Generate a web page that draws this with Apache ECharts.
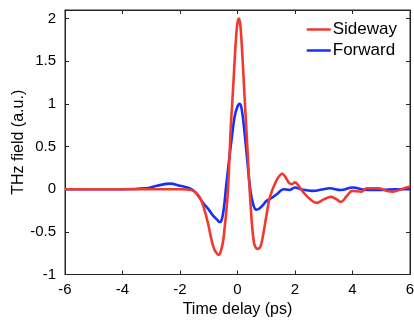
<!DOCTYPE html>
<html>
<head>
<meta charset="utf-8">
<script src="https://cdn.jsdelivr.net/npm/echarts@6/dist/echarts.min.js"></script>
<style>html,body{margin:0;padding:0;background:#fff}#c{width:414px;height:322px}</style>
</head>
<body>
<div id="c"></div>
<script>
// Time delay (ps) and THz field (a.u.)
const sidewayX = [-6,-5,-4,-3,-2,-1.6,-1.4,-1.25,-1.1,-1.0,-0.9,-0.8,-0.7,-0.65,-0.6,-0.5,-0.45,-0.4,-0.35,-0.3,-0.25,-0.2,-0.15,-0.1,-0.05,0,0.05,0.1,0.15,0.2,0.25,0.3,0.35,0.4,0.45,0.5,0.55,0.6,0.7,0.8,0.9,1.0,1.1,1.2,1.3,1.4,1.5,1.55,1.65,1.8,1.9,2.0,2.1,2.3,2.5,2.75,3.0,3.25,3.45,3.6,3.8,4.0,4.3,4.5,4.9,5.2,5.4,5.7,6.0];
const sidewayY = [0,0,0,0,0,-0.01,-0.06,-0.14,-0.3,-0.44,-0.6,-0.71,-0.76,-0.77,-0.75,-0.61,-0.46,-0.3,-0.1,0.2,0.62,0.92,1.2,1.5,1.78,1.95,2.0,1.92,1.68,1.38,1.06,0.75,0.45,0.12,-0.15,-0.4,-0.57,-0.66,-0.70,-0.67,-0.52,-0.32,-0.13,-0.02,0.06,0.13,0.17,0.18,0.15,0.07,0.06,0.08,0.05,-0.04,-0.11,-0.16,-0.12,-0.09,-0.12,-0.15,-0.08,-0.02,-0.03,0.01,0.01,-0.02,-0.03,0.0,0.03];
const forwardX = [-6,-5,-4,-3.2,-2.8,-2.35,-2.0,-1.6,-1.4,-1.2,-1.0,-0.85,-0.7,-0.65,-0.6,-0.55,-0.5,-0.45,-0.4,-0.35,-0.3,-0.2,-0.1,0,0.08,0.15,0.25,0.35,0.45,0.55,0.65,0.75,0.9,1.0,1.2,1.4,1.6,1.8,2.0,2.2,2.6,3.0,3.2,3.6,4.0,4.5,5.0,5.5,6.0];
const forwardY = [0,0,0,0.01,0.04,0.065,0.04,0.0,-0.06,-0.16,-0.24,-0.31,-0.36,-0.38,-0.385,-0.36,-0.28,-0.15,0.02,0.17,0.32,0.6,0.85,0.97,1.0,0.93,0.65,0.3,-0.02,-0.18,-0.24,-0.23,-0.18,-0.14,-0.1,-0.05,0.0,-0.01,0.02,0.0,-0.02,0.0,0.01,-0.01,0.02,-0.01,-0.01,0.0,0.0];
const xTicks = [-6,-4,-2,0,2,4,6];
const yTicks = [-1,-0.5,0,0.5,1,1.5,2];
const seriesNames = ['Sideway','Forward'];

const pair = (xs, ys) => xs.map((x, i) => [x, ys[i]]);
const font = 'Liberation Sans, Arial, Helvetica, sans-serif';
const axisCol = '#262626';
const chart = echarts.init(document.getElementById('c'), null, {renderer: 'canvas'});
function mkX(pos, showLabel) {
  return {
    type: 'value', min: xTicks[0], max: xTicks[xTicks.length-1], interval: 2, position: pos,
    axisLine: {show: true, onZero: false, lineStyle: {color: axisCol, width: 1}},
    axisTick: {show: true, inside: true, length: 4, lineStyle: {color: axisCol, width: 1}},
    splitLine: {show: false},
    axisLabel: {show: showLabel, margin: 8, fontFamily: font, fontSize: 15, color: '#000'}
  };
}
function mkY(pos, showLabel) {
  return {
    type: 'value', min: -1, max: 2.1, interval: 0.5, position: pos,
    axisLine: {show: true, onZero: false, lineStyle: {color: axisCol, width: 1}},
    axisTick: {show: true, inside: true, length: 4, lineStyle: {color: axisCol, width: 1}},
    splitLine: {show: false},
    axisLabel: {show: showLabel, margin: 9, fontFamily: font, fontSize: 15, color: '#000', showMaxLabel: false,
      formatter: v => (yTicks.indexOf(v) >= 0 ? String(v) : '')}
  };
}
const xb = mkX('bottom', true);
Object.assign(xb, {name: 'Time delay (ps)', nameLocation: 'middle', nameGap: 27, nameMoveOverlap: false,
  nameTextStyle: {fontFamily: font, fontSize: 16, color: '#000'}});
const yl = mkY('left', true);
Object.assign(yl, {name: 'THz field (a.u.)', nameLocation: 'middle', nameGap: 38, nameMoveOverlap: false,
  nameTextStyle: {fontFamily: font, fontSize: 16, color: '#000'}});

chart.setOption({
  animation: false,
  grid: {left: 65, right: 4, top: 10, bottom: 47.5, containLabel: false, outerBoundsMode: 'none',
    show: true, borderColor: axisCol, borderWidth: 1, backgroundColor: 'transparent'},
  legend: {
    data: seriesNames, orient: 'vertical', right: 12, top: 16, itemGap: 4,
    icon: 'rect', itemWidth: 24, itemHeight: 2.5,
    textStyle: {fontFamily: font, fontSize: 17, color: '#000', padding: [0,0,0,-3]}
  },
  xAxis: [xb, mkX('top', false)],
  yAxis: [yl, mkY('right', false)],
  series: [
    {name: seriesNames[0], type: 'line', data: pair(sidewayX, sidewayY), smooth: 0.4, showSymbol: false,
     lineStyle: {color: '#f03a2e', width: 2.6}, itemStyle: {color: '#f03a2e'}, z: 3},
    {name: seriesNames[1], type: 'line', data: pair(forwardX, forwardY), smooth: 0.4, showSymbol: false,
     lineStyle: {color: '#1430fa', width: 2.6}, itemStyle: {color: '#1430fa'}, z: 2},
    {type: 'line', xAxisIndex: 1, yAxisIndex: 1, data: [], silent: true, showSymbol: false}
  ]
});
</script>
</body>
</html>
